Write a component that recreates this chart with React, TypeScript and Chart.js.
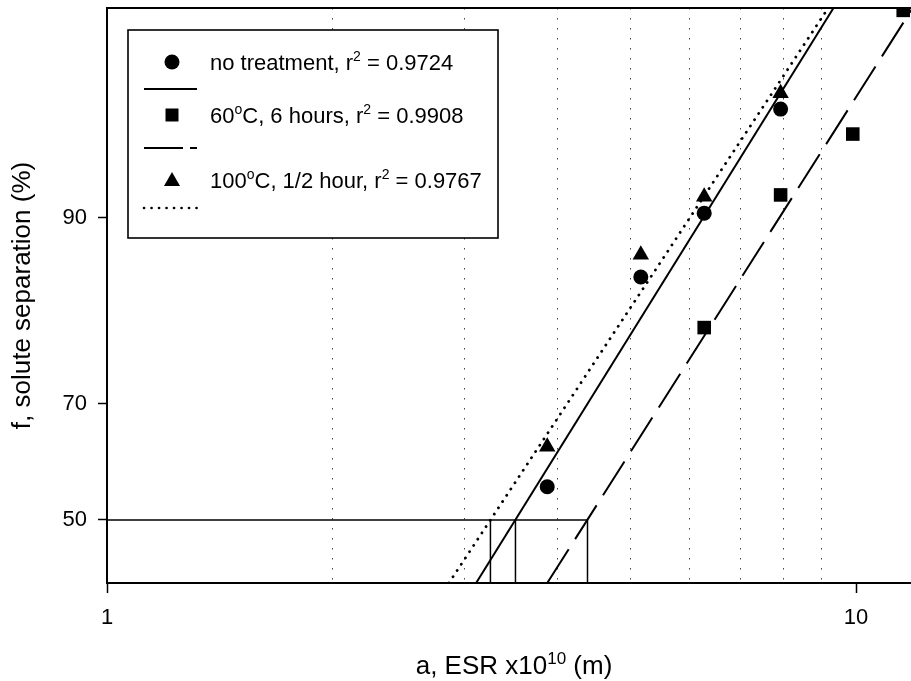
import React, { useEffect, useRef } from 'react';
import { Chart, registerables, LinearScale } from 'chart.js';

Chart.register(...registerables);

// Axis ranges: a (ESR, x10^-10 m) on a log axis, f (%) on a logit axis
const ESR_MIN = 1;
const ESR_MAX = 11.84;
const SEP_MIN = 38.74;
const SEP_MAX = 97.64;

// Measured solute separation for each membrane treatment
const noTreatmentEsr = [3.87, 5.16, 6.27, 7.93];
const noTreatmentSep = [56.0, 85.4, 90.3, 95.2];
const heat60Esr = [6.27, 7.93, 9.9, 11.56];
const heat60Sep = [80.2, 91.4, 94.3, 97.6];
const heat100Esr = [3.87, 5.16, 6.27, 7.93];
const heat100Sep = [63.0, 87.3, 91.3, 95.7];

// Regression lines: ESR where each fit meets the bottom and the top of the plot
const noTreatmentFitEsr = [3.11, 9.33];
const heat60FitEsr = [3.87, 11.9];
const heat100FitEsr = [2.86, 9.18];
const fitSep = [SEP_MIN, SEP_MAX];

// ESR at 50 % separation (100 °C, none, 60 °C)
const halfSepLevel = 50;
const halfSepEsr = [3.25, 3.51, 4.38];

// Ticks
const xTickValues = [1, 2, 3, 4, 5, 6, 7, 8, 9, 10];
const xLabelledTicks = [1, 10];
const yTickValues = [50, 70, 90];

// Legend text: [text, superscript?]
const rSquared = ['0.9724', '0.9908', '0.9767'];
const legendLabels: [string, boolean][][] = [
  [['no treatment, r', false], ['2', true], [' = ' + rSquared[0], false]],
  [['60', false], ['o', true], ['C, 6 hours, r', false], ['2', true], [' = ' + rSquared[1], false]],
  [['100', false], ['o', true], ['C, 1/2 hour, r', false], ['2', true], [' = ' + rSquared[2], false]],
];
const xTitleParts: [string, boolean][] = [['a, ESR x10', false], ['10', true], [' (m)', false]];
const yTitle = 'f, solute separation (%)';

const FAMILY = "'Liberation Sans', Arial, Helvetica, sans-serif";
const INK = '#000';
const DOTTED = [0.1, 7.4];
const DASHED = [40, 12];

const logit = (p: number) => Math.log(p / (100 - p));
const invLogit = (z: number) => 100 / (1 + Math.exp(-z));

// Linear axis in logit(f) units, labelled in percent
class LogitScale extends LinearScale {
  static id = 'logit';
  static defaults = {};
  determineDataLimits() {
    const { min, max } = this.getUserBounds();
    this.min = min;
    this.max = max;
  }
  buildTicks() {
    return yTickValues.map((value) => ({ value }));
  }
  getPixelForValue(value: number) {
    const lo = logit(this.min);
    const hi = logit(this.max);
    return this.getPixelForDecimal((logit(value) - lo) / (hi - lo));
  }
  getValueForPixel(pixel: number) {
    const lo = logit(this.min);
    const hi = logit(this.max);
    return invLogit(lo + this.getDecimalForPixel(pixel) * (hi - lo));
  }
}
Chart.register(LogitScale);

const pts = (xs: number[], ys: number[]) => xs.map((x, i) => ({ x, y: ys[i] }));

function drawParts(ctx: CanvasRenderingContext2D, parts: [string, boolean][], x: number, y: number, size: number, supSize: number, rise: number, align: 'left' | 'center') {
  const normal = `${size}px ${FAMILY}`;
  const sup = `${supSize}px ${FAMILY}`;
  let total = 0;
  for (const [t, s] of parts) {
    ctx.font = s ? sup : normal;
    total += ctx.measureText(t).width;
  }
  let cx = align === 'center' ? x - total / 2 : x;
  ctx.textAlign = 'left';
  ctx.textBaseline = 'alphabetic';
  for (const [t, s] of parts) {
    ctx.font = s ? sup : normal;
    ctx.fillText(t, cx, s ? y - rise : y);
    cx += ctx.measureText(t).width;
  }
}

const framePlugin = {
  id: 'frame',
  afterDraw(chart: any) {
    const { ctx, chartArea } = chart;
    const { left, right, top, bottom } = chartArea;
    ctx.save();
    ctx.fillStyle = INK;
    ctx.strokeStyle = INK;

    // top edge of the frame
    ctx.lineWidth = 2;
    ctx.beginPath();
    ctx.moveTo(left - 1, top);
    ctx.lineTo(right, top);
    ctx.stroke();

    // legend box
    const bx = left + 21;
    const by = top + 22;
    const bw = 370;
    const bh = 208;
    ctx.fillStyle = '#fff';
    ctx.fillRect(bx, by, bw, bh);
    ctx.lineWidth = 1.6;
    ctx.strokeRect(bx, by, bw, bh);
    ctx.fillStyle = INK;

    const mx = bx + 44;
    const tx = bx + 82;
    const rows = [by + 32, by + 85, by + 150];
    const lineRows = [by + 59, by + 118, by + 178];
    const kinds = ['circle', 'rect', 'triangle'];
    const dashes = [[], [39, 7], DOTTED];
    const caps = ['butt', 'butt', 'round'];
    rows.forEach((ry, i) => {
      const k = kinds[i];
      ctx.beginPath();
      if (k === 'circle') {
        ctx.arc(mx, ry, 7.5, 0, Math.PI * 2);
      } else if (k === 'rect') {
        ctx.rect(mx - 6.5, ry - 6.5, 13, 13);
      } else {
        ctx.moveTo(mx, ry - 8);
        ctx.lineTo(mx + 8, ry + 6);
        ctx.lineTo(mx - 8, ry + 6);
        ctx.closePath();
      }
      ctx.fill();
      drawParts(ctx, legendLabels[i], tx, ry + 8, 22, 14, 9, 'left');

      ctx.save();
      ctx.lineWidth = i === 2 ? 2.6 : 1.8;
      ctx.lineCap = caps[i];
      ctx.setLineDash(dashes[i]);
      ctx.beginPath();
      ctx.moveTo(bx + 16, lineRows[i]);
      ctx.lineTo(bx + 69, lineRows[i]);
      ctx.stroke();
      ctx.restore();
    });

    // x-axis title with superscript exponent
    drawParts(ctx, xTitleParts, (left + right) / 2 + 5, bottom + 91, 26, 17, 10, 'center');
    ctx.restore();
  },
};

const tickFont = { family: FAMILY, size: 22 };

export default function App() {
  const ref = useRef<HTMLCanvasElement>(null);

  useEffect(() => {
    document.body.style.margin = '0';
    const canvas = ref.current;
    if (!canvas) return;

    const markers = (data: any, style: string, radius: number) => ({
      data,
      pointStyle: style,
      pointRadius: radius,
      pointBackgroundColor: INK,
      pointBorderWidth: 0,
      showLine: false,
    });
    const line = (data: any, dash: number[], width: number, cap = 'butt') => ({
      data,
      showLine: true,
      pointRadius: 0,
      borderColor: INK,
      borderWidth: width,
      borderDash: dash,
      borderCapStyle: cap,
      fill: false,
    });

    const dropLines = [
      line([{ x: ESR_MIN, y: halfSepLevel }, { x: Math.max(...halfSepEsr), y: halfSepLevel }], [], 1.5),
      ...halfSepEsr.map((a) => line([{ x: a, y: SEP_MIN }, { x: a, y: halfSepLevel }], [], 1.5)),
    ];

    const chart = new Chart(canvas, {
      type: 'scatter',
      data: {
        datasets: [
          markers(pts(noTreatmentEsr, noTreatmentSep), 'circle', 7.5),
          markers(pts(heat60Esr, heat60Sep), 'rect', 9.6),
          markers(pts(heat100Esr, heat100Sep), 'triangle', 9.5),
          line(pts(noTreatmentFitEsr, fitSep), [], 2),
          line(pts(heat60FitEsr, fitSep), DASHED, 2),
          line(pts(heat100FitEsr, fitSep), DOTTED, 2.8, 'round'),
          ...dropLines,
        ] as any,
      },
      options: {
        responsive: false,
        animation: false,
        devicePixelRatio: 1,
        events: [],
        layout: { autoPadding: false, padding: { top: 8, right: 0, bottom: 0, left: 0 } },
        plugins: { legend: { display: false }, tooltip: { enabled: false } },
        scales: {
          x: {
            type: 'logarithmic',
            position: 'bottom',
            min: ESR_MIN,
            max: ESR_MAX,
            afterBuildTicks: (s: any) => {
              s.ticks = xTickValues.map((value) => ({ value }));
            },
            afterFit: (s: any) => {
              s.height = 98;
              s.paddingLeft = 0;
              s.paddingRight = 0;
            },
            border: { display: true, color: INK, width: 2, dash: [1.5, 8.5] },
            grid: {
              drawOnChartArea: true,
              drawTicks: true,
              lineWidth: 1,
              color: (c: any) => (xLabelledTicks.includes(c.tick?.value) ? 'rgba(0,0,0,0)' : '#444'),
              tickLength: 10,
              tickWidth: 1.5,
              tickColor: (c: any) => (xLabelledTicks.includes(c.tick?.value) ? INK : 'rgba(0,0,0,0)'),
              tickBorderDash: [],
            },
            ticks: {
              autoSkip: false,
              maxRotation: 0,
              padding: 12,
              color: INK,
              font: tickFont,
              callback: (v: any) => (xLabelledTicks.includes(Number(v)) ? String(v) : ''),
            },
          },
          y: {
            type: 'logit',
            position: 'left',
            min: SEP_MIN,
            max: SEP_MAX,
            afterFit: (s: any) => {
              s.width = 107;
              s.paddingTop = 0;
              s.paddingBottom = 0;
            },
            border: { display: true, color: INK, width: 2 },
            grid: {
              drawOnChartArea: false,
              drawTicks: true,
              color: INK,
              tickLength: 9,
              tickWidth: 1.5,
              tickColor: INK,
            },
            ticks: {
              padding: 11,
              color: INK,
              font: tickFont,
              callback: (v: any) => String(v),
            },
            title: {
              display: true,
              text: yTitle,
              color: INK,
              font: { family: FAMILY, size: 26 },
              padding: { top: 7, bottom: 0 },
            },
          } as any,
        },
      },
      plugins: [framePlugin],
    } as any);

    return () => chart.destroy();
  }, []);

  return (
    <div style={{ width: 911, height: 681, overflow: 'hidden', background: '#fff' }}>
      <canvas ref={ref} width={911} height={681} style={{ display: 'block' }} />
    </div>
  );
}
